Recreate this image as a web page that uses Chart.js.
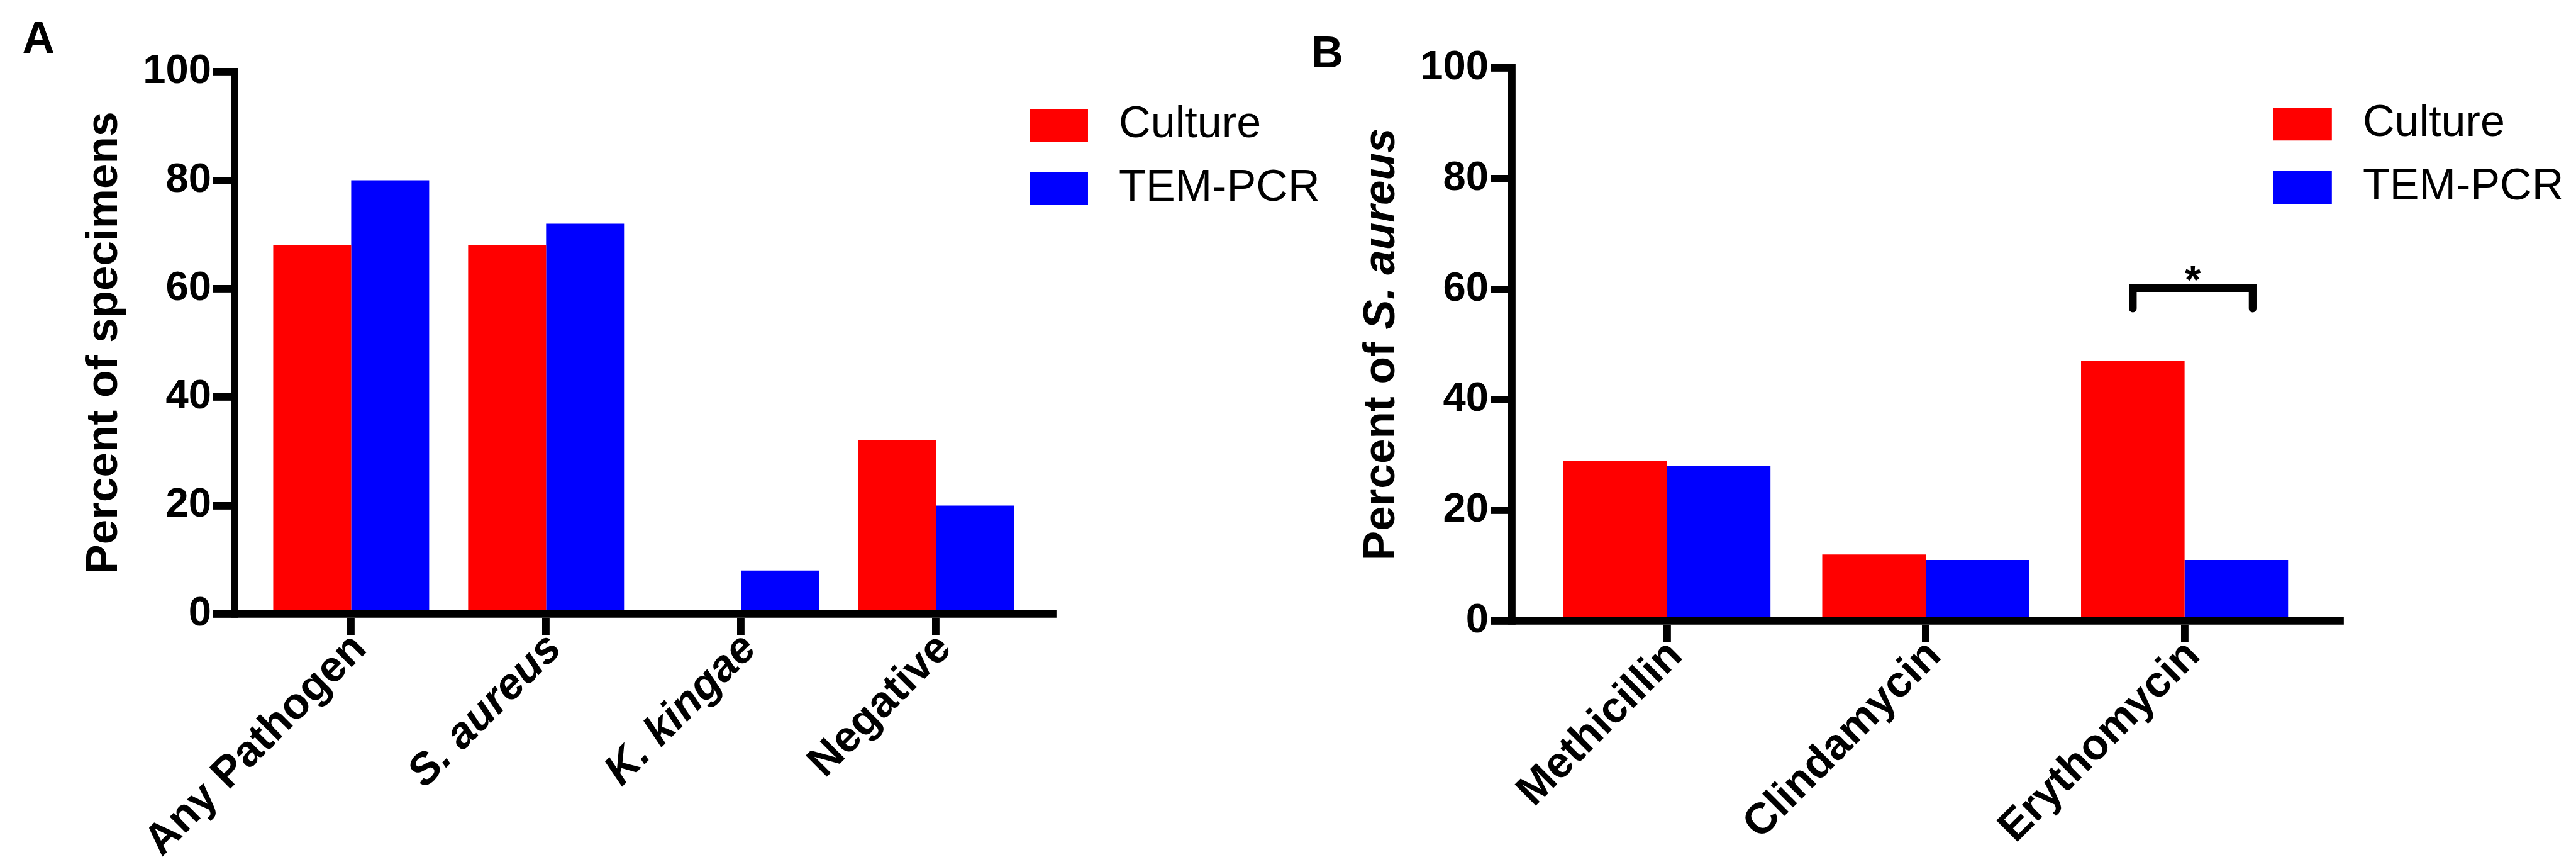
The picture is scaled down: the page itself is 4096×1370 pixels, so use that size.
<!DOCTYPE html>
<html>
<head>
<meta charset="utf-8">
<script src="https://cdn.jsdelivr.net/npm/chart.js@4.4.1/dist/chart.umd.min.js"></script>
<style>
  html, body { margin: 0; padding: 0; background: #fff; }
  #wrap { position: relative; width: 4096px; height: 1370px; overflow: hidden; background: #fff; }
  canvas { position: absolute; top: 0; }
</style>
</head>
<body>
<div id="wrap">
  <canvas id="chartA"></canvas>
  <canvas id="chartB"></canvas>
</div>
<script>
// ---- data: panel A
const pathogenLabels = ['Any Pathogen', 'S. aureus', 'K. kingae', 'Negative'];
const pathogenCulture = [68, 68, 0, 32];
const pathogenPcr = [80, 72, 8, 20];

// ---- data: panel B
const drugLabels = ['Methicillin', 'Clindamycin', 'Erythomycin'];
const drugCulture = [29, 12, 47];
const drugPcr = [28, 11, 11];

// significance bracket over Erythomycin (values in axis units)
const sigFrom = 1.8;
const sigTo = 2.263;
const sigLevel = 60.2;
const sigFoot = 56.5;
const sigMarkLevel = 62.8;

// everything below is measured on the 4145x1386 reference, scaled by S
const S = 0.988;
const FONT = "'Liberation Sans', Arial, Helvetica, sans-serif";
const BLACK = '#000000';

// move the legend to a fixed spot inside the plot
const legendSpot = {
  id: 'legendSpot',
  afterLayout(chart, args, o) {
    const lg = chart.legend;
    if (!lg) return;
    lg.left = o.x;
    lg.top = o.y;
    lg.right = o.x + 1200;
    lg.bottom = o.y + 1200;
  }
};

// panel letter + y title (with mixed italic)
const panelText = {
  id: 'panelText',
  afterDraw(chart, args, o) {
    const { ctx, chartArea } = chart;
    ctx.save();
    ctx.fillStyle = BLACK;
    ctx.textBaseline = 'alphabetic';
    ctx.textAlign = 'left';
    ctx.font = 'bold ' + (72 * S) + 'px ' + FONT;
    ctx.fillText(o.letter, o.letterX, o.letterY);

    ctx.translate(chartArea.left - o.titleGap, (chartArea.top + chartArea.bottom) / 2);
    ctx.rotate(-Math.PI / 2);
    const fonts = o.title.map(p => (p.italic ? 'italic ' : '') + 'bold ' + (72 * S) + 'px ' + FONT);
    let total = 0;
    const widths = o.title.map((p, i) => {
      ctx.font = fonts[i];
      const w = ctx.measureText(p.text).width;
      total += w;
      return w;
    });
    let x = -total / 2;
    o.title.forEach((p, i) => {
      ctx.font = fonts[i];
      ctx.fillText(p.text, x, 0);
      x += widths[i];
    });
    ctx.restore();
  }
};

const sigBracket = {
  id: 'sigBracket',
  afterDatasetsDraw(chart, args, o) {
    const { ctx } = chart;
    const xs = chart.scales.x, ys = chart.scales.y;
    const xl = xs.getPixelForValue(o.from), xr = xs.getPixelForValue(o.to);
    const yt = ys.getPixelForValue(o.level), yb = ys.getPixelForValue(o.foot);
    ctx.save();
    ctx.strokeStyle = BLACK;
    ctx.lineWidth = 12.4 * S;
    ctx.lineJoin = 'miter';
    ctx.lineCap = 'round';
    ctx.beginPath();
    ctx.moveTo(xl, yb);
    ctx.lineTo(xl, yt);
    ctx.lineTo(xr, yt);
    ctx.lineTo(xr, yb);
    ctx.stroke();
    ctx.fillStyle = BLACK;
    ctx.font = 'bold ' + (66 * S) + 'px ' + FONT;
    ctx.textAlign = 'center';
    ctx.textBaseline = 'alphabetic';
    const m = ctx.measureText('*');
    const cy = ys.getPixelForValue(o.markLevel);
    ctx.fillText('*', (xl + xr) / 2, cy + (m.actualBoundingBoxAscent - m.actualBoundingBoxDescent) / 2);
    ctx.restore();
  }
};

function makePanel(id, p) {
  const canvas = document.getElementById(id);
  const w = Math.round(p.width * S), h = Math.round(1386 * S);
  canvas.width = w;
  canvas.height = h;
  canvas.style.width = w + 'px';
  canvas.style.height = h + 'px';
  canvas.style.left = Math.round(p.left * S) + 'px';
  const last = p.labels.length - 1;

  const axisGrid = {
    display: true,
    offset: false,
    drawOnChartArea: false,
    drawTicks: true,
    tickLength: 34 * S,
    tickWidth: 12 * S,
    lineWidth: 12 * S,
    color: BLACK
  };

  return new Chart(canvas, {
    type: 'bar',
    data: {
      datasets: [
        { label: 'Culture', data: p.labels.map((c, i) => ({ x: i, y: p.culture[i] })), backgroundColor: '#ff0000' },
        { label: 'TEM-PCR', data: p.labels.map((c, i) => ({ x: i, y: p.pcr[i] })), backgroundColor: '#0000ff' }
      ]
    },
    options: {
      responsive: false,
      animation: false,
      devicePixelRatio: 1,
      events: [],
      datasets: { bar: { borderWidth: 0, categoryPercentage: 0.8, barPercentage: 1 } },
      layout: { padding: { left: 0, top: p.top * S, right: (p.width - p.right) * S, bottom: 0 } },
      scales: {
        x: {
          type: 'linear',
          min: -0.6,
          max: last + 0.6,
          offset: false,
          afterFit: s => { s.height = (1386 - p.bottom) * S; },
          grid: axisGrid,
          border: { display: true, width: 12 * S, color: BLACK, z: 1 },
          ticks: {
            stepSize: 1,
            includeBounds: false,
            autoSkip: false,
            minRotation: 45,
            maxRotation: 45,
            padding: -18.5 * S,
            labelOffset: 14 * S,
            color: BLACK,
            callback: v => p.labels[v],
            font: c => ({ family: FONT, size: 70 * S, weight: 'bold', style: p.italic[c.index] ? 'italic' : 'normal' })
          }
        },
        y: {
          min: 0,
          max: 100,
          afterFit: s => { s.width = p.axisX * S; },
          grid: axisGrid,
          border: { display: true, width: 12 * S, color: BLACK, z: 1 },
          ticks: {
            stepSize: 20,
            padding: 3 * S,
            color: BLACK,
            font: { family: FONT, size: 66 * S, weight: 'bold' }
          }
        }
      },
      plugins: {
        legend: {
          position: 'chartArea',
          fullSize: false,
          align: 'start',
          labels: {
            boxWidth: 94 * S,
            boxHeight: 53 * S,
            padding: 31 * S,
            color: BLACK,
            font: { family: FONT, size: 71 * S, weight: 'normal' },
            generateLabels: ch => Chart.defaults.plugins.legend.labels.generateLabels(ch)
              .map(it => Object.assign({}, it, { text: '\u2009' + it.text }))
          }
        },
        tooltip: { enabled: false },
        legendSpot: { x: (p.legendX - 31) * S, y: (p.legendY - 31 - 9) * S },
        panelText: { letter: p.letter, letterX: p.letterX * S, letterY: p.letterY * S, title: p.title, titleGap: 189 * S },
        sigBracket: p.bracket || false
      }
    },
    plugins: [legendSpot, panelText, sigBracket]
  });
}

makePanel('chartA', {
  left: 0, width: 2200,
  axisX: 377, top: 115.7, bottom: 988, right: 1694,
  labels: pathogenLabels, culture: pathogenCulture, pcr: pathogenPcr,
  italic: [false, true, true, false],
  legendX: 1657, legendY: 175,
  letter: 'A', letterX: 36, letterY: 85,
  title: [{ text: 'Percent of specimens' }]
});

makePanel('chartB', {
  left: 2070, width: 2075,
  axisX: 363, top: 109.5, bottom: 999, right: 1696,
  labels: drugLabels, culture: drugCulture, pcr: drugPcr,
  italic: [false, false, false],
  legendX: 1589, legendY: 173,
  letter: 'B', letterX: 40, letterY: 108,
  title: [{ text: 'Percent of ' }, { text: 'S. aureus', italic: true }],
  bracket: { from: sigFrom, to: sigTo, level: sigLevel, foot: sigFoot, markLevel: sigMarkLevel }
});
</script>
</body>
</html>
